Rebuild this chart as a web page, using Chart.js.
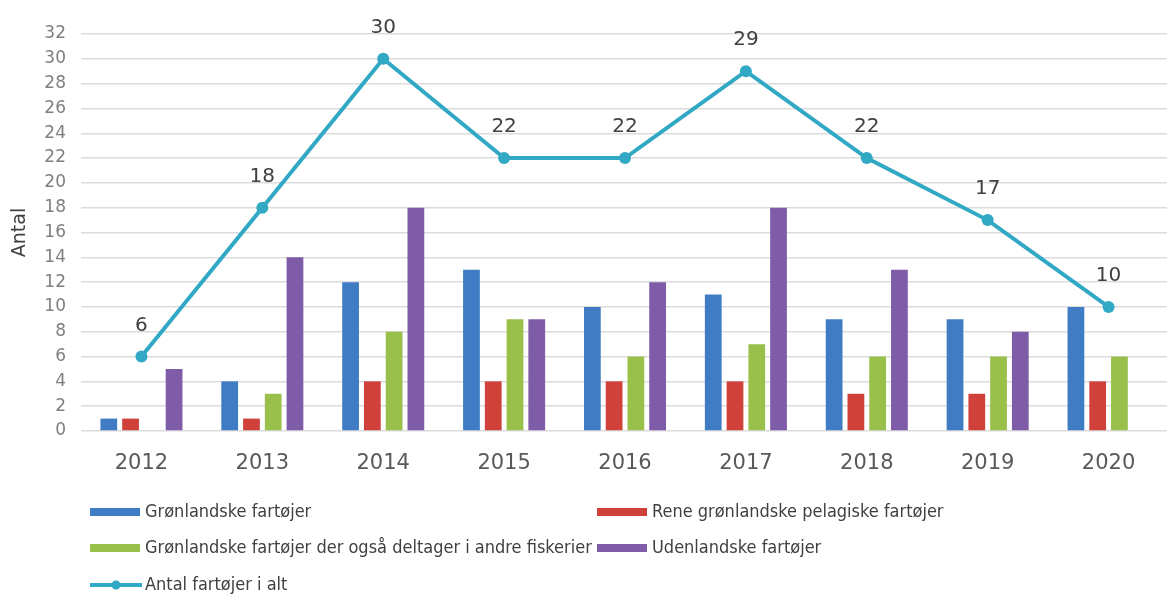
<!DOCTYPE html>
<html>
<head>
<meta charset="utf-8">
<script src="https://cdn.jsdelivr.net/npm/chart.js@4"></script>
<style>
  html, body { margin: 0; padding: 0; background: #fff; overflow: hidden; }
</style>
</head>
<body>
<canvas id="graf" width="1175" height="597"></canvas>
<script>
const aar = ['2012', '2013', '2014', '2015', '2016', '2017', '2018', '2019', '2020'];
const groenlandske = [1, 4, 12, 13, 10, 11, 9, 9, 10];
const pelagiske = [1, 1, 4, 4, 4, 4, 3, 3, 4];
const andreFiskerier = [0, 3, 8, 9, 6, 7, 6, 6, 6];
const udenlandske = [5, 14, 18, 9, 12, 18, 13, 8, 0];
const iAlt = [6, 18, 30, 22, 22, 29, 22, 17, 10];
const yMax = 32;
const yStep = 2;

// placering af signaturforklaringen (x, y) i samme rækkefølge som datasættene
const legendPos = [[90, 512], [597, 512], [90, 548], [597, 548], [90, 585]];

const talPaaLinje = {
    id: 'talPaaLinje',
    afterDatasetsDraw(chart) {
        const ctx = chart.ctx;
        chart.data.datasets.forEach((ds, i) => {
            if (ds.type !== 'line') return;
            const meta = chart.getDatasetMeta(i);
            ctx.save();
            ctx.font = '20px "DejaVu Sans"';
            ctx.fillStyle = '#404040';
            ctx.textAlign = 'center';
            ctx.textBaseline = 'middle';
            meta.data.forEach((pt, j) => {
                ctx.fillText(String(ds.data[j]), pt.x, pt.y - 31);
            });
            ctx.restore();
        });
    }
};

const forklaring = {
    id: 'forklaring',
    afterDraw(chart) {
        const ctx = chart.ctx;
        ctx.save();
        ctx.font = '18px "DejaVu Sans Condensed", "DejaVu Sans"';
        ctx.textBaseline = 'middle';
        chart.data.datasets.forEach((ds, i) => {
            const [x, y] = legendPos[i];
            if (ds.type === 'line') {
                ctx.strokeStyle = ds.borderColor;
                ctx.lineWidth = 4;
                ctx.beginPath();
                ctx.moveTo(x, y);
                ctx.lineTo(x + 52, y);
                ctx.stroke();
                ctx.fillStyle = ds.borderColor;
                ctx.beginPath();
                ctx.arc(x + 26, y, 4.5, 0, Math.PI * 2);
                ctx.fill();
            } else {
                ctx.fillStyle = ds.backgroundColor;
                ctx.fillRect(x, y - 4, 50, 8);
            }
            ctx.fillStyle = '#404040';
            ctx.fillText(ds.label, x + 55, y);
        });
        ctx.restore();
    }
};

const ctx = document.getElementById('graf');
const chart = new Chart(ctx, {
    type: 'bar',
    data: {
        labels: aar,
        datasets: [
            { label: 'Grønlandske fartøjer', data: groenlandske, backgroundColor: '#3f7cc4' },
            { label: 'Rene grønlandske pelagiske fartøjer', data: pelagiske, backgroundColor: '#d0413b' },
            { label: 'Grønlandske fartøjer der også deltager i andre fiskerier', data: andreFiskerier, backgroundColor: '#99c04b' },
            { label: 'Udenlandske fartøjer', data: udenlandske, backgroundColor: '#7f5ca8' },
            {
                type: 'line', label: 'Antal fartøjer i alt', data: iAlt, order: -1,
                borderColor: '#31a8c4', backgroundColor: '#31a8c4', borderWidth: 4,
                pointRadius: 6, pointBackgroundColor: '#31a8c4', pointBorderWidth: 0, tension: 0
            }
        ]
    },
    options: {
        responsive: false,
        animation: false,
        devicePixelRatio: 1,
        categoryPercentage: 0.72,
        barPercentage: 0.77,
        layout: { padding: { top: 34, bottom: 106, left: 0, right: 0 } },
        plugins: {
            legend: { display: false },
            tooltip: { enabled: false }
        },
        scales: {
            x: {
                grid: { display: false },
                border: { display: false },
                ticks: { color: '#595959', font: { family: 'DejaVu Sans', size: 21 }, padding: 12 },
                afterFit: s => { s.height = 60; }
            },
            y: {
                min: 0, max: yMax,
                grid: { color: '#dcdcdc', lineWidth: 1.5, drawTicks: false },
                border: { display: false },
                ticks: { stepSize: yStep, color: '#7f7f7f', font: { family: 'DejaVu Sans', size: 17 }, padding: 15 },
                title: {
                    display: true, text: 'Antal', color: '#404040',
                    font: { family: 'DejaVu Sans', size: 19 }, padding: { top: 9, bottom: 0 }
                },
                afterFit: s => { s.width = 81; }
            }
        }
    },
    plugins: [talPaaLinje, forklaring]
});
</script>
</body>
</html>
